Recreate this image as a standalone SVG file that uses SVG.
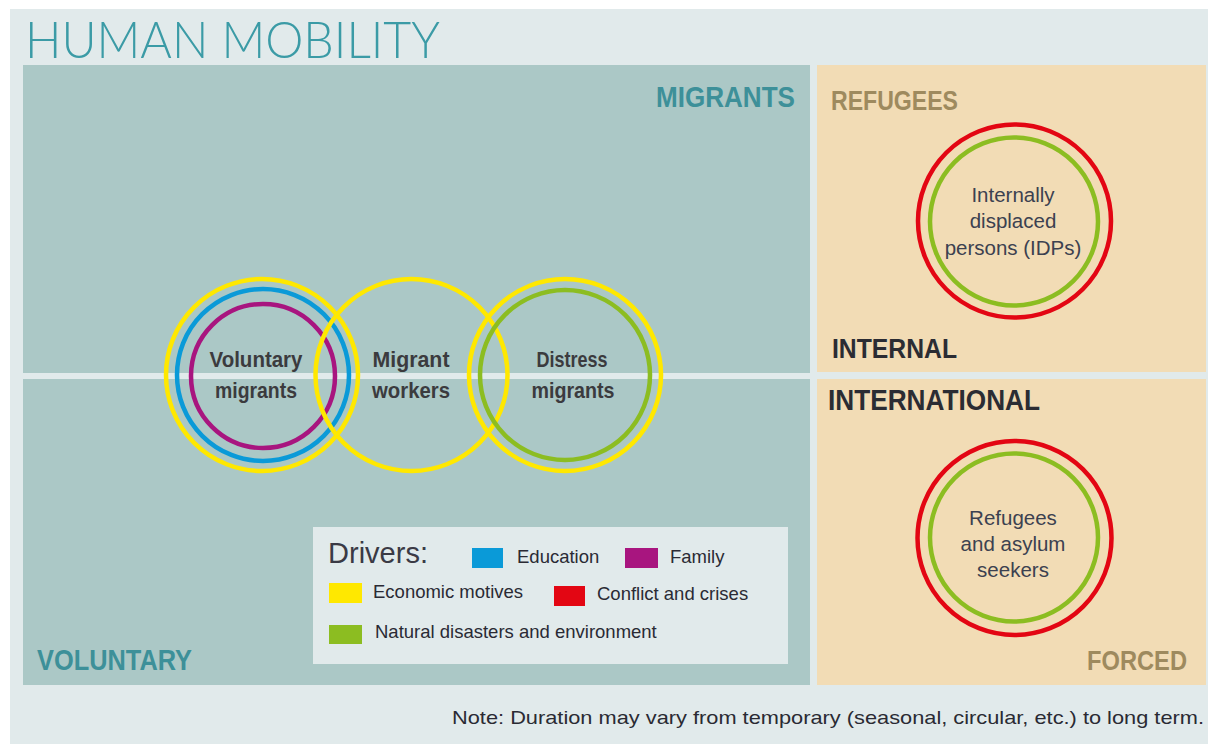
<svg xmlns="http://www.w3.org/2000/svg" width="1208" height="744" viewBox="0 0 1208 744">
<style>
.lbl{font-family:"Liberation Sans",Arial,sans-serif;font-weight:bold;fill:#3b3b3e;font-size:22px;text-anchor:middle}
.ctx{font-family:"Liberation Sans",Arial,sans-serif;fill:#3c4150;font-size:20.5px;text-anchor:middle}
.hd{font-family:"Liberation Sans",Arial,sans-serif;font-weight:bold}
.leg{font-family:"Liberation Sans",Arial,sans-serif;fill:#2a2a34;font-size:18.5px}
.ring{fill:none;stroke-width:4.5}
.y{stroke:#ffe800}.b{stroke:#0a9ad8}.m{stroke:#a8157f}.g{stroke:#8cbd21}.r{stroke:#e30613}
</style>
<rect x="0" y="0" width="1208" height="744" fill="#ffffff"/>
<rect x="10" y="9" width="1198" height="735" fill="#e1eaeb"/>
<g id="panels">
<rect x="23" y="65" width="787" height="308" fill="#abc8c6"/>
<rect x="23" y="379" width="787" height="306" fill="#abc8c6"/>
<rect x="817" y="65" width="389" height="307" fill="#f2dcb5"/>
<rect x="817" y="379" width="389" height="306" fill="#f2dcb5"/>
</g>
<text x="25" y="58" font-family="Lato,'Liberation Sans',sans-serif" font-weight="300" font-size="52" fill="#3b9ba6" textLength="415" lengthAdjust="spacingAndGlyphs">HUMAN MOBILITY</text>
<g id="axis-labels" class="hd">
<text x="656" y="107" font-size="30" fill="#3d9099" textLength="139" lengthAdjust="spacingAndGlyphs">MIGRANTS</text>
<text x="37" y="670" font-size="30" fill="#3d9099" textLength="155" lengthAdjust="spacingAndGlyphs">VOLUNTARY</text>
<text x="831" y="110" font-size="27" fill="#9e8a5e" textLength="127" lengthAdjust="spacingAndGlyphs">REFUGEES</text>
<text x="1087" y="670" font-size="27" fill="#9e8a5e" textLength="100" lengthAdjust="spacingAndGlyphs">FORCED</text>
<text x="832" y="358" font-size="27" fill="#2b2c33" textLength="125" lengthAdjust="spacingAndGlyphs">INTERNAL</text>
<text x="828" y="410" font-size="29" fill="#2b2c33" textLength="212" lengthAdjust="spacingAndGlyphs">INTERNATIONAL</text>
</g>
<g id="connectors"/>
<g id="voluntary-migrants">
<circle class="ring y" cx="262" cy="375" r="96"/>
<circle class="ring b" cx="263" cy="375" r="86"/>
<circle class="ring m" cx="263" cy="376" r="72"/>
<text class="lbl" x="256" y="367" textLength="93" lengthAdjust="spacingAndGlyphs">Voluntary</text>
<text class="lbl" x="256" y="398" textLength="82" lengthAdjust="spacingAndGlyphs">migrants</text>
</g>
<g id="migrant-workers">
<circle class="ring y" cx="411.5" cy="375" r="96"/>
<text class="lbl" x="411" y="367" textLength="77" lengthAdjust="spacingAndGlyphs">Migrant</text>
<text class="lbl" x="411" y="398" textLength="78" lengthAdjust="spacingAndGlyphs">workers</text>
</g>
<g id="distress-migrants">
<circle class="ring y" cx="565" cy="375" r="96"/>
<circle class="ring g" cx="565" cy="375" r="85"/>
<text class="lbl" x="572" y="367" textLength="71" lengthAdjust="spacingAndGlyphs">Distress</text>
<text class="lbl" x="573" y="398" textLength="83" lengthAdjust="spacingAndGlyphs">migrants</text>
</g>
<g id="idps">
<circle class="ring r" cx="1014.5" cy="221" r="96.5"/>
<circle class="ring g" cx="1014" cy="221.5" r="84"/>
<text class="ctx" x="1013" y="202">Internally</text>
<text class="ctx" x="1013" y="228">displaced</text>
<text class="ctx" x="1013" y="255">persons (IDPs)</text>
</g>
<g id="refugees-asylum">
<circle class="ring r" cx="1014.5" cy="538" r="97"/>
<circle class="ring g" cx="1014" cy="537.5" r="84"/>
<text class="ctx" x="1013" y="525">Refugees</text>
<text class="ctx" x="1013" y="551">and asylum</text>
<text class="ctx" x="1013" y="577">seekers</text>
</g>
<g id="legend">
<rect x="313" y="527" width="475" height="137" fill="#e1eaeb"/>
<text x="328" y="563" font-family="'Liberation Sans',Arial,sans-serif" font-size="29" fill="#3a3a45" textLength="100" lengthAdjust="spacingAndGlyphs">Drivers:</text>
<rect x="472" y="548" width="31" height="20" fill="#0a9ad8"/>
<text class="leg" x="517" y="563">Education</text>
<rect x="625" y="548" width="33" height="20" fill="#a8157f"/>
<text class="leg" x="670" y="563">Family</text>
<rect x="329" y="583" width="33" height="20" fill="#ffe800"/>
<text class="leg" x="373" y="598">Economic motives</text>
<rect x="554" y="586" width="31" height="20" fill="#e30613"/>
<text class="leg" x="597" y="600">Conflict and crises</text>
<rect x="329" y="625" width="33" height="19" fill="#8cbd21"/>
<text class="leg" x="375" y="638">Natural disasters and environment</text>
</g>
<text x="452" y="724" font-family="'Liberation Sans',Arial,sans-serif" font-size="19" fill="#2a2a33" textLength="752" lengthAdjust="spacingAndGlyphs">Note: Duration may vary from temporary (seasonal, circular, etc.) to long term.</text>
</svg>
